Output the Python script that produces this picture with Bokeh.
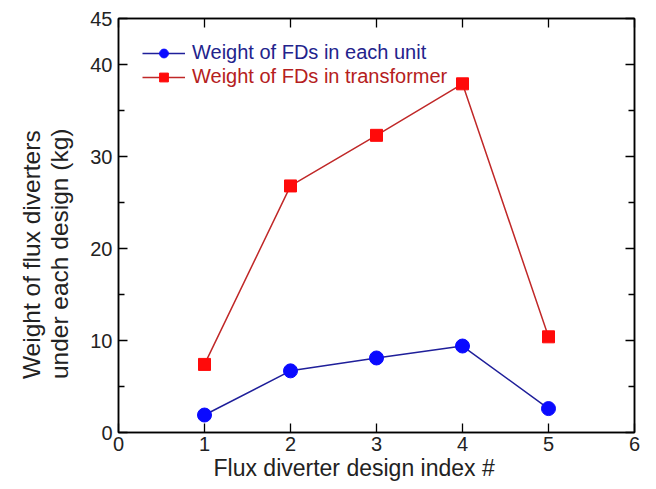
from bokeh.plotting import figure
from bokeh.models import (Range1d, LinearAxis, FixedTicker, Legend, LegendItem, Title)
from bokeh.embed import file_html
from bokeh.resources import INLINE

# Design indices and flux-diverter weights (kg)
design_index = [1, 2, 3, 4, 5]
weight_per_unit = [1.9, 6.7, 8.1, 9.4, 2.6]
weight_transformer = [7.4, 26.8, 32.3, 37.9, 10.4]

x_ticks = [0, 1, 2, 3, 4, 5, 6]
y_ticks = [0, 10, 20, 30, 40, 45]
y_minor = [5, 15, 25, 35]

x_title = "Flux diverter design index #"
y_title = "Weight of flux diverters\nunder each design (kg)"

FONT = "Liberation Sans"
TEXT = "#222222"

p = figure(width=656, height=489, output_backend="svg", toolbar_location=None,
           x_range=Range1d(0, 6), y_range=Range1d(0, 45),
           min_border_left=118, min_border_right=22, min_border_top=18,
           min_border_bottom=57, x_axis_location=None, y_axis_location=None)
p.grid.visible = False
p.outline_line_color = "black"
p.outline_line_width = 1.5
p.background_fill_color = "white"
p.border_fill_color = "white"


def style_axis(ax, labels=True):
    ax.axis_line_color = "black"
    ax.axis_line_width = 1.5
    ax.major_tick_in = 9
    ax.major_tick_out = 0
    ax.minor_tick_in = 6
    ax.minor_tick_out = 0
    ax.major_tick_line_color = "black"
    ax.minor_tick_line_color = "black"
    ax.major_tick_line_width = 1.3
    ax.minor_tick_line_width = 1.3
    ax.major_label_text_font = FONT
    ax.major_label_text_font_size = "20px"
    ax.major_label_text_color = TEXT
    if not labels:
        ax.major_label_text_font_size = "0px"
        ax.major_label_text_alpha = 0


xb = LinearAxis(ticker=FixedTicker(ticks=x_ticks))
style_axis(xb)
xb.major_label_standoff = 4
p.add_layout(xb, "below")

xt = LinearAxis(ticker=FixedTicker(ticks=x_ticks))
style_axis(xt, labels=False)
p.add_layout(xt, "above")

yl = LinearAxis(ticker=FixedTicker(ticks=y_ticks, minor_ticks=y_minor))
style_axis(yl)
yl.major_label_standoff = 6
p.add_layout(yl, "left")

yr = LinearAxis(ticker=FixedTicker(ticks=y_ticks, minor_ticks=y_minor))
style_axis(yr, labels=False)
p.add_layout(yr, "right")

# Axis titles
p.add_layout(Title(text=x_title, align="left", offset=95, standoff=0,
                   text_font=FONT, text_font_size="23px", text_font_style="normal",
                   text_color=TEXT, vertical_align="middle"), "below")
p.add_layout(Title(text=y_title, align="right", offset=110, standoff=27,
                   text_font=FONT, text_font_size="24.5px", text_font_style="normal",
                   text_line_height=1.05, text_color=TEXT,
                   vertical_align="middle"), "left")

# Series
bl = p.line(design_index, weight_per_unit, line_color="#1f1f9a", line_width=1.5)
bm = p.scatter(design_index, weight_per_unit, marker="circle", size=14,
               fill_color="#0a0aff", line_color="#0a0aff")
rl = p.line(design_index, weight_transformer, line_color="#c02828", line_width=1.5)
rm = p.scatter(design_index, weight_transformer, marker="square", size=12,
               fill_color="#ff0a0a", line_color="#ff0a0a")


def make_legend(label, renderers, color, loc):
    lg = Legend(items=[LegendItem(label=label, renderers=renderers)],
                location=loc, background_fill_alpha=0, border_line_alpha=0,
                padding=0, margin=0, spacing=0, glyph_width=43, glyph_height=22,
                label_standoff=7, label_text_font=FONT,
                label_text_font_size="20px", label_text_color=color,
                label_height=22)
    p.add_layout(lg, "center")


make_legend("Weight of FDs in each unit", [bl, bm], "#23238c", (24, 368))
make_legend("Weight of FDs in transformer", [rl, rm], "#b52020", (24, 344))

open("out.html", "w").write(file_html(p, INLINE))
